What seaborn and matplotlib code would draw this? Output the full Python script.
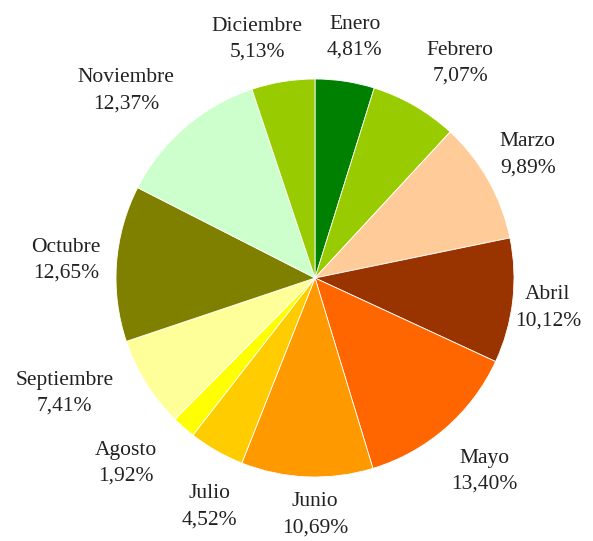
import matplotlib
matplotlib.use("Agg")
import matplotlib.pyplot as plt
import seaborn as sns

sns.set_style("white")
plt.rcParams["font.family"] = ["Liberation Serif", "DejaVu Serif"]

### data
months = ["Enero", "Febrero", "Marzo", "Abril", "Mayo", "Junio", "Julio",
          "Agosto", "Septiembre", "Octubre", "Noviembre", "Diciembre"]
shares = [4.81, 7.07, 9.89, 10.12, 13.40, 10.69, 4.52, 1.92, 7.41, 12.65, 12.37, 5.13]
colors = ["#008000", "#99CC00", "#FFCC99", "#993300", "#FF6600", "#FF9900",
          "#FFCC00", "#FFFF00", "#FFFF99", "#808000", "#CCFFCC", "#99CC00"]

# where the labels sit (pie radius = 1), like the spreadsheet placed them
label_xy = [(0.20, 1.21), (0.73, 1.08), (1.07, 0.62), (1.17, -0.15),
            (0.85, -0.97), (0.0, -1.19), (-0.53, -1.15), (-0.95, -0.93),
            (-1.26, -0.58), (-1.25, 0.09), (-0.95, 0.94), (-0.29, 1.20)]

fig = plt.figure(figsize=(5.93, 5.41), dpi=100)
cx, cy, r = 315, 278, 199
ax = fig.add_axes([(cx - r) / 593, (541 - cy - r) / 541, 2 * r / 593, 2 * r / 541])

ax.pie(shares, colors=colors, startangle=90, counterclock=False,
       wedgeprops=dict(edgecolor="white", linewidth=0.6))

for m, v, (x, y) in zip(months, shares, label_xy):
    pct = f"{v:.2f}".replace(".", ",")
    ax.text(x, y, f"{m}\n{pct}%", ha="center", va="center", multialignment="center",
            fontsize=15.5, linespacing=1.5, color="#222222")

ax.set_xlim(-1, 1)
ax.set_ylim(-1, 1)
ax.axis("off")

fig.savefig("out.png", dpi=100)
